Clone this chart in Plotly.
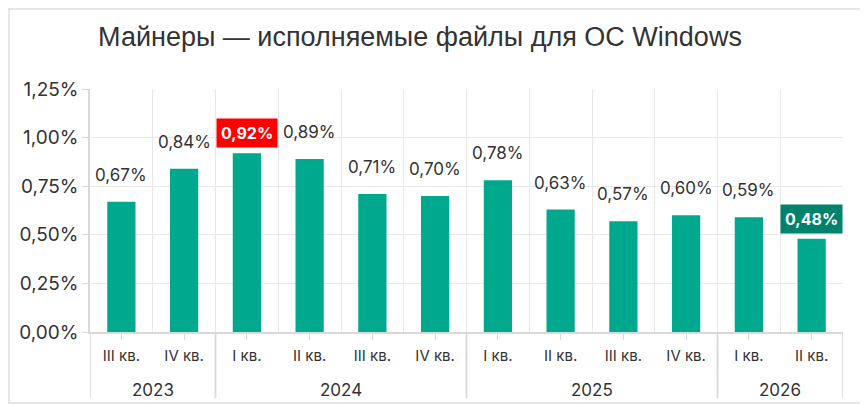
import plotly.graph_objects as go

# данные
years = ["2023", "2023", "2024", "2024", "2024", "2024",
         "2025", "2025", "2025", "2025", "2026", "2026"]
quarters = ["III кв.", "IV кв.", "I кв.", "II кв.", "III кв.", "IV кв.",
            "I кв.", "II кв.", "III кв.", "IV кв.", "I кв.", "II кв."]
values = [0.67, 0.84, 0.92, 0.89, 0.71, 0.70, 0.78, 0.63, 0.57, 0.60, 0.59, 0.48]
y_ticks = [0, 0.25, 0.5, 0.75, 1.0, 1.25]

# страница рисуется с отступом 8px у body, поэтому фигура чуть меньше окна
OFF = 8
W, H = 868 - OFF, 404 - OFF
ML, MR, MT, MB = 90 - OFF, 25, 89 - OFF, 72
GREEN = "#00A88E"
TEXT = "#333333"
FONT = "Inter, Noto Sans, sans-serif"

def pct(v):
    return f"{v:.2f}%".replace(".", ",")

xs = list(range(len(values)))
i_max = values.index(max(values))
i_min = values.index(min(values))

fig = go.Figure()
fig.add_trace(go.Bar(
    x=xs, y=values, width=0.45,
    marker=dict(color=GREEN, line=dict(width=0)),
    hoverinfo="skip", showlegend=False,
))

# подписи над столбцами
for i, v in enumerate(values):
    if i == i_max or i == i_min:
        fig.add_annotation(
            x=i, y=v, yanchor="bottom", yshift=5, showarrow=False,
            text=f"<b>{pct(v)}</b>",
            font=dict(family=FONT, size=16, color="white"),
            bgcolor="#FF0000" if i == i_max else "#00826D",
            borderpad=4,
        )
    else:
        fig.add_annotation(
            x=i, y=v, yanchor="bottom", yshift=15, showarrow=False,
            text=pct(v),
            font=dict(family=FONT, size=17, color=TEXT),
        )

# годы и разделители
groups = []
for i, yr in enumerate(years):
    if not groups or groups[-1][0] != yr:
        groups.append([yr, i, i])
    else:
        groups[-1][2] = i

plot_h = H - MT - MB
for yr, a, b in groups:
    fig.add_annotation(
        x=(a + b) / 2, y=-58 / plot_h, yref="paper", yanchor="middle",
        showarrow=False, text=yr,
        font=dict(family=FONT, size=17, color=TEXT),
    )
    for bx in (a - 0.5, b + 0.5):
        fig.add_shape(
            type="line", xref="x", yref="paper",
            x0=bx, x1=bx, y0=0, y1=-66 / plot_h,
            line=dict(color="#D9D9D9", width=1.5),
        )

# рамка вокруг картинки
plot_w = W - ML - MR
fig.add_shape(
    type="rect", xref="paper", yref="paper",
    x0=-(ML - 1) / plot_w, x1=1 + (MR - 1) / plot_w,
    y0=-(MB - 1) / plot_h, y1=1 + (MT - 1) / plot_h,
    line=dict(color="#E6E6E6", width=2),
)

fig.update_layout(
    width=W, height=H,
    margin=dict(l=ML, r=MR, t=MT, b=MB),
    paper_bgcolor="white", plot_bgcolor="white",
    title=dict(
        text="Майнеры — исполняемые файлы для ОС Windows",
        x=(420 - OFF) / W, xanchor="center", y=1 - (37 - OFF) / H, yanchor="middle",
        yref="container",
        font=dict(family="Liberation Sans, Arial, sans-serif", size=27, color=TEXT),
    ),
    xaxis=dict(
        range=[-0.5, len(values) - 0.5],
        tickmode="array", tickvals=xs, ticktext=quarters,
        ticks="outside", ticklen=6, tickcolor="#D9D9D9",
        ticklabelstandoff=3,
        showgrid=False, zeroline=False,
        showline=True, linecolor="#D9D9D9", linewidth=1.5,
        tickfont=dict(family=FONT, size=15, color=TEXT),
        minor=dict(tickmode="array", tickvals=[x + 0.5 for x in xs[:-1]],
                   showgrid=True, gridcolor="#E8E8E8", gridwidth=1, ticks=""),
        fixedrange=True,
    ),
    yaxis=dict(
        range=[0, 1.25],
        tickmode="array", tickvals=y_ticks, ticktext=[pct(t) for t in y_ticks],
        ticks="outside", ticklen=6, tickcolor="#D9D9D9",
        showgrid=True, gridcolor="#E8E8E8", gridwidth=1,
        zeroline=False, showline=True, linecolor="#D9D9D9", linewidth=1.5,
        tickfont=dict(family=FONT, size=19, color=TEXT),
        fixedrange=True,
    ),
)

fig.write_html("out.html")
